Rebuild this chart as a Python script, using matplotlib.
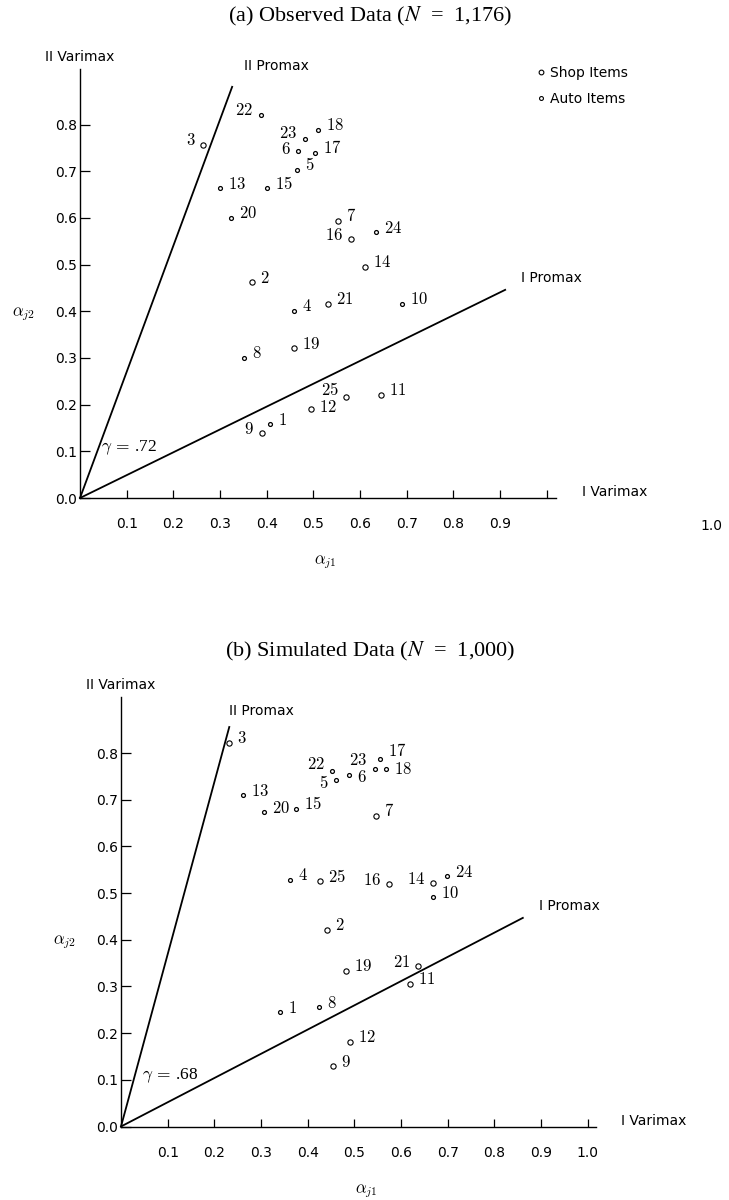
import matplotlib
matplotlib.use("Agg")
import matplotlib.pyplot as plt

# item numbers and loadings (alpha_j1, alpha_j2)
items = list(range(1, 26))
auto_items = [1, 4, 5, 6, 8, 10, 13, 15, 17, 18, 20, 22, 23, 24]

obs_a1 = [0.408, 0.369, 0.264, 0.458, 0.464, 0.468, 0.552, 0.351, 0.389, 0.689,
          0.646, 0.495, 0.299, 0.611, 0.401, 0.581, 0.504, 0.509, 0.458, 0.324,
          0.531, 0.387, 0.483, 0.634, 0.571]
obs_a2 = [0.158, 0.462, 0.757, 0.401, 0.703, 0.744, 0.594, 0.300, 0.139, 0.416,
          0.221, 0.190, 0.664, 0.496, 0.664, 0.554, 0.740, 0.789, 0.321, 0.601,
          0.416, 0.821, 0.769, 0.569, 0.217]

sim_a1 = [0.340, 0.441, 0.232, 0.363, 0.461, 0.489, 0.546, 0.424, 0.455, 0.669,
          0.619, 0.491, 0.262, 0.669, 0.374, 0.574, 0.556, 0.568, 0.482, 0.306,
          0.637, 0.453, 0.544, 0.699, 0.426]
sim_a2 = [0.245, 0.422, 0.822, 0.529, 0.742, 0.754, 0.666, 0.256, 0.129, 0.491,
          0.306, 0.182, 0.710, 0.521, 0.681, 0.519, 0.788, 0.765, 0.334, 0.673,
          0.343, 0.761, 0.765, 0.536, 0.525]

# promax axis end points (I, II) and factor correlations
obs_promax_I = (0.911, 0.446)
obs_promax_II = (0.326, 0.881)
sim_promax_I = (0.861, 0.447)
sim_promax_II = (0.232, 0.856)
obs_gamma = ".72"
sim_gamma = ".68"

y_ticks = [0.0, 0.1, 0.2, 0.3, 0.4, 0.5, 0.6, 0.7, 0.8]
x_ticks = [0.1, 0.2, 0.3, 0.4, 0.5, 0.6, 0.7, 0.8, 0.9, 1.0]

# label placement: side (+1 right / -1 left) and vertical shift in px
obs_side = [1, 1, -1, 1, 1, -1, 1, 1, -1, 1, 1, 1, 1, 1, 1, -1, 1, 1, 1, 1, 1, -1, -1, 1, -1]
obs_dy = [4.5] * 25
obs_dy[5] = 2       # 6
obs_dy[22] = 6.5    # 23
obs_dy[24] = 6.5    # 25
obs_dy[11] = 2.5    # 12
sim_side = [1, 1, 1, 1, -1, 1, 1, 1, 1, 1, 1, 1, 1, -1, 1, -1, 1, 1, 1, 1, -1, -1, -1, 1, 1]
sim_dy = [4.5] * 25
sim_dy[4] = -2.5    # 5
sim_dy[5] = -2.5    # 6
sim_dy[16] = 8      # 17
sim_dy[17] = 0.5    # 18
sim_dy[21] = 7      # 22
sim_dy[22] = 9      # 23

W, H = 729, 1200
S = 466.7  # pixels per unit

fig = plt.figure(figsize=(W / 100, H / 100), dpi=100)


def panel(ox, oy, xmax, a1, a2, pI, pII, gamma, side, dy, title, ty, one_x=None):
    ymax = 0.92
    ax = fig.add_axes([ox / W, (H - oy) / H, xmax * S / W, ymax * S / H])
    ax.set_xlim(0, xmax)
    ax.set_ylim(0, ymax)
    for s in ["top", "right"]:
        ax.spines[s].set_visible(False)
    for s in ["left", "bottom"]:
        ax.spines[s].set_linewidth(1.0)
    ax.set_xticks(x_ticks)
    if one_x is None:
        ax.set_xticklabels([f"{t:.1f}" for t in x_ticks])
    else:
        # the 1.0 label sits far to the right in the top panel
        ax.set_xticklabels([f"{t:.1f}" for t in x_ticks[:-1]] + [""])
        ax.text(one_x, -0.044, "1.0", fontsize=10, ha="center", va="top", clip_on=False)
    ax.set_yticks(y_ticks)
    ax.set_yticklabels([f"{t:.1f}" for t in y_ticks])
    ax.tick_params(axis="x", direction="in", length=6, width=0.9, pad=14, labelsize=10)
    ax.tick_params(axis="y", direction="in", length=7, width=0.9, pad=2, labelsize=10)

    # promax axes
    ax.plot([0, pI[0]], [0, pI[1]], color="black", lw=1.3, clip_on=False)
    ax.plot([0, pII[0]], [0, pII[1]], color="black", lw=1.3, clip_on=False)

    for n, x, y, sd, d in zip(items, a1, a2, side, dy):
        if n in auto_items:
            ax.plot(x, y, "o", ms=2.8, mfc="white", mec="black", mew=0.9, clip_on=False)
        else:
            ax.plot(x, y, "o", ms=3.8, mfc="white", mec="black", mew=0.8, clip_on=False)
        ax.annotate(f"${n}$", (x, y), xytext=(8 * sd, d), textcoords="offset pixels",
                    ha="left" if sd > 0 else "right", va="center",
                    fontsize=12, math_fontfamily="cm", annotation_clip=False)

    ax.text(0.0, 0.945, "II Varimax", ha="center", va="center", fontsize=10)
    ax.text(pII[0] + (0.025 if one_x else 0.0), pII[1] + (0.045 if one_x else 0.035),
            "II Promax", ha="left", va="center", fontsize=10)
    ax.text(pI[0] + 0.035, pI[1] + 0.025, "I Promax", ha="left", va="center", fontsize=10)
    ax.text(xmax + 0.055, 0.012, "I Varimax", ha="left", va="center", fontsize=10, clip_on=False)
    ax.text(0.045, 0.108, r"$\gamma\,=\,$" + gamma, ha="left", va="center", fontsize=12.5,
            family="Liberation Serif", math_fontfamily="cm")
    ax.text(-0.122, 0.395, r"$\alpha_{j2}$", ha="center", va="center", fontsize=12,
            math_fontfamily="cm", clip_on=False)
    ax.text(0.525, -0.138, r"$\alpha_{j1}$", ha="center", va="center", fontsize=12,
            math_fontfamily="cm", clip_on=False)
    fig.text(370 / W, 1 - ty / H, title, ha="center", va="center", fontsize=16,
             family="Liberation Serif", math_fontfamily="stix")
    return ax


ax1 = panel(80, 498, 1.02, obs_a1, obs_a2, obs_promax_I, obs_promax_II, obs_gamma,
            obs_side, obs_dy, r"(a) Observed Data ($N$  =  1,176)", 16, one_x=1.354)
ax2 = panel(121, 1126.5, 1.017, sim_a1, sim_a2, sim_promax_I, sim_promax_II, sim_gamma,
            sim_side, sim_dy, r"(b) Simulated Data ($N$  =  1,000)", 651)

# legend (top panel)
h1, = ax1.plot([], [], "o", ms=3.4, mfc="white", mec="black", mew=0.8)
h2, = ax1.plot([], [], "o", ms=2.8, mfc="white", mec="black", mew=0.8)
ax1.legend([h1, h2], ["Shop Items", "Auto Items"], loc="upper left",
           bbox_to_anchor=(537 / W, 1 - 66 / H), bbox_transform=fig.transFigure,
           frameon=False, handlelength=0.6, handletextpad=0.3, labelspacing=0.85,
           fontsize=10, borderpad=0, borderaxespad=0)

fig.savefig("out.png", dpi=100)
